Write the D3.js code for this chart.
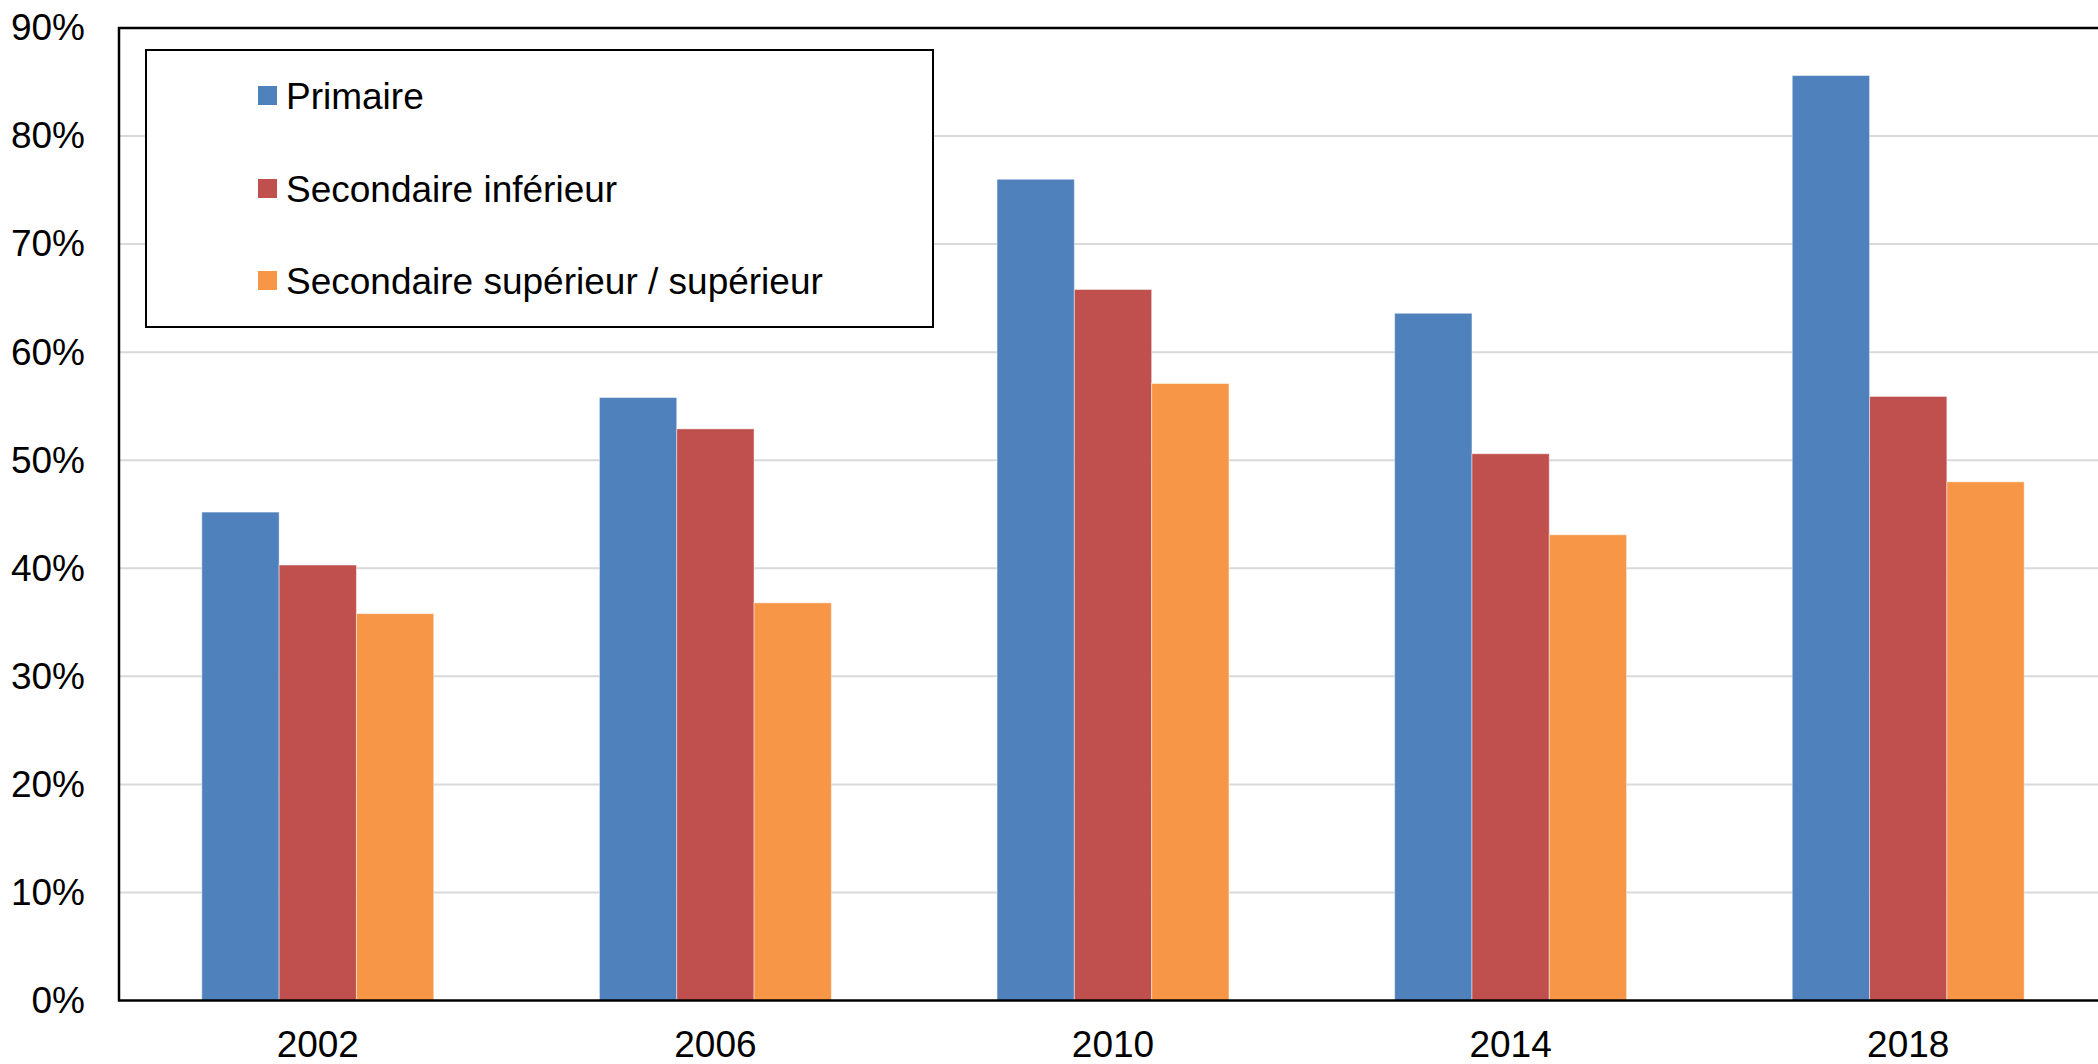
<!DOCTYPE html>
<html>
<head>
<meta charset="utf-8">
<script src="https://cdn.jsdelivr.net/npm/d3@7"></script>
<style>
  body { margin: 0; background: #fff; }
  svg { display: block; }
</style>
</head>
<body>
<div id="chart"></div>
<script>
"use strict";

// Data (percent)
var years = ["2002", "2006", "2010", "2014", "2018"];
var seriesNames = ["Primaire", "Secondaire inférieur", "Secondaire supérieur / supérieur"];
var primaire = [45.2, 55.8, 76.0, 63.6, 85.6];
var secInferieur = [40.3, 52.9, 65.8, 50.6, 55.9];
var secSuperieur = [35.8, 36.8, 57.1, 43.1, 48.0];
var yTicks = [0, 10, 20, 30, 40, 50, 60, 70, 80, 90];

var seriesValues = [primaire, secInferieur, secSuperieur];
var colors = ["#4F81BD", "#C0504D", "#F79646"];

var W = 2098, H = 1064;
var plotLeft = 119, plotRight = 2107, plotTop = 28, plotBottom = 1000.5;
var fontSize = 37;

var svg = d3.select("#chart").append("svg")
  .attr("width", W)
  .attr("height", H)
  .style("font-family", "'Liberation Sans', Arial, sans-serif");

var x0 = d3.scaleBand()
  .domain(years)
  .range([plotLeft, plotRight])
  .paddingInner(0.4167)
  .paddingOuter(0.2083);

var x1 = d3.scaleBand()
  .domain(d3.range(seriesNames.length))
  .range([0, x0.bandwidth()]);

var y = d3.scaleLinear()
  .domain([0, 90])
  .range([plotBottom, plotTop]);

// Gridlines
svg.append("g")
  .selectAll("line")
  .data(yTicks.filter(function(t) { return t > 0 && t < 90; }))
  .join("line")
  .attr("x1", plotLeft)
  .attr("x2", plotRight)
  .attr("y1", function(d) { return y(d); })
  .attr("y2", function(d) { return y(d); })
  .attr("stroke", "#d9d9d9")
  .attr("stroke-width", 2);

// Bars
var groups = svg.append("g")
  .selectAll("g")
  .data(years)
  .join("g")
  .attr("transform", function(d) { return "translate(" + x0(d) + ",0)"; });

groups.selectAll("rect")
  .data(function(d, i) {
    return seriesValues.map(function(vals, s) { return { s: s, v: vals[i] }; });
  })
  .join("rect")
  .attr("x", function(d) { return x1(d.s); })
  .attr("y", function(d) { return y(d.v); })
  .attr("width", x1.bandwidth())
  .attr("height", function(d) { return y(0) - y(d.v); })
  .attr("fill", function(d) { return colors[d.s]; })
  .attr("stroke", "rgba(255,255,255,0.45)")
  .attr("stroke-width", 1);

// Plot frame (top / left / bottom)
svg.append("rect")
  .attr("x", plotLeft)
  .attr("y", plotTop)
  .attr("width", plotRight - plotLeft)
  .attr("height", plotBottom - plotTop)
  .attr("fill", "none")
  .attr("stroke", "#000")
  .attr("stroke-width", 2.5);

// Y axis
var yAxis = svg.append("g")
  .attr("transform", "translate(" + plotLeft + ",0)")
  .call(d3.axisLeft(y)
    .tickValues(yTicks)
    .tickSize(0)
    .tickPadding(34)
    .tickFormat(function(d) { return d + "%"; }));
yAxis.select(".domain").remove();
yAxis.selectAll("text")
  .attr("font-size", fontSize + "px")
  .attr("font-family", "'Liberation Sans', Arial, sans-serif")
  .attr("fill", "#000");

// X axis
var xAxis = svg.append("g")
  .attr("transform", "translate(0," + plotBottom + ")")
  .call(d3.axisBottom(x0).tickSize(0).tickPadding(30));
xAxis.select(".domain").remove();
xAxis.selectAll("text")
  .attr("font-size", fontSize + "px")
  .attr("font-family", "'Liberation Sans', Arial, sans-serif")
  .attr("fill", "#000");

// Legend
var legend = svg.append("g");
legend.append("rect")
  .attr("x", 146)
  .attr("y", 50)
  .attr("width", 787)
  .attr("height", 277)
  .attr("fill", "#fff")
  .attr("stroke", "#000")
  .attr("stroke-width", 2);

var legendY = [96, 189, 281];
var items = legend.selectAll("g.item")
  .data(seriesNames)
  .join("g")
  .attr("class", "item")
  .attr("transform", function(d, i) { return "translate(258," + legendY[i] + ")"; });

items.append("rect")
  .attr("x", 0)
  .attr("y", -10)
  .attr("width", 19)
  .attr("height", 19)
  .attr("fill", function(d, i) { return colors[i]; });

items.append("text")
  .attr("x", 28)
  .attr("y", 0)
  .attr("dy", "0.35em")
  .attr("font-size", fontSize + "px")
  .attr("fill", "#000")
  .text(function(d) { return d; });
</script>
</body>
</html>
